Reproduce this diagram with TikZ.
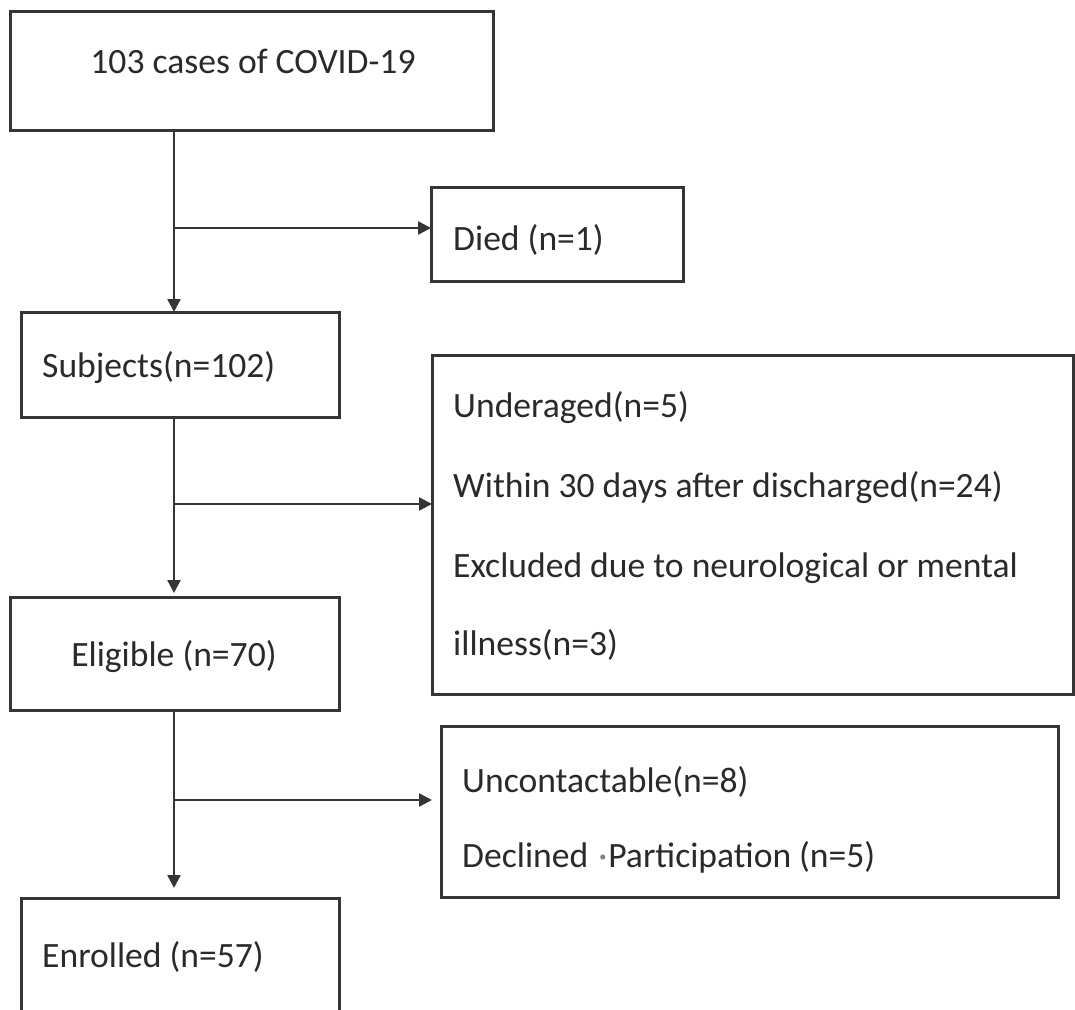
\documentclass[tikz,border=0pt]{standalone}
\usepackage{fontspec}
\setmainfont{Carlito}
\usetikzlibrary{arrows.meta}
\definecolor{ln}{HTML}{353535}
\definecolor{tx}{HTML}{2A2A2A}
\tikzset{
  box/.style={draw=ln, line width=3pt, rectangle, inner sep=0pt, outer sep=0pt, anchor=north west},
  txt/.style={text=tx, inner sep=0pt, font=\fontsize{35.6}{42}\selectfont, anchor=base west},
  conn/.style={draw=ln, line width=2.4pt},
  arr/.style={conn, -{Triangle[length=13pt,width=13pt]}}
}
\begin{document}
\begin{tikzpicture}[x=1pt,y=-1pt]
\useasboundingbox[fill=white] (0,0) rectangle (1075,1009);
% boxes
\node[box, minimum width=483pt, minimum height=119pt] (b1) at (10,11) {};
\node[box, minimum width=252pt, minimum height=94pt] (died) at (431,187) {};
\node[box, minimum width=318pt, minimum height=105pt] (subj) at (21,312) {};
\node[box, minimum width=641pt, minimum height=339pt] (excl) at (432,355) {};
\node[box, minimum width=329pt, minimum height=113pt] (elig) at (10,597) {};
\node[box, minimum width=617pt, minimum height=171pt] (unc) at (441,726) {};
\node[box, minimum width=318pt, minimum height=125pt] (enr) at (21,898) {};
% texts
\node[txt, anchor=base] (t1) at (253,73) {103 cases of COVID-19};
\node[txt] (tdied) at (453,250) {Died (n=1)};
\node[txt] (tsubj) at (42,377) {Subjects(n=102)};
\node[txt] (te1) at (453,417) {Underaged(n=5)};
\node[txt] (te2) at (453,497) {Within 30 days after discharged(n=24)};
\node[txt] (te3) at (453,577) {Excluded due to neurological or mental};
\node[txt] (te4) at (453,655) {illness(n=3)};
\node[txt, anchor=base] (telig) at (174,666) {Eligible (n=70)};
\node[txt] (tu1) at (462,792) {Uncontactable(n=8)};
\node[txt] (tu2) at (462,867) {Declined\hspace{10pt}\textcolor{gray}{·}\hspace{1pt}Participation (n=5)};
\node[txt] (tenr) at (42,967) {Enrolled (n=57)};
% trunk coordinates
\coordinate (j1) at (174,228);
\coordinate (j2) at (174,504);
\coordinate (j3) at (174,800);
% connectors
\draw[arr] (b1.south -| j1) -- (subj.north -| j1);
\draw[arr] (j1) -- (died.west |- j1);
\draw[arr, shorten >=4pt] (subj.south -| j2) -- (elig.north -| j2);
\draw[arr] (j2) -- (excl.west |- j2);
\draw[arr, shorten >=10pt] (elig.south -| j3) -- (enr.north -| j3);
\draw[arr, shorten >=9pt] (j3) -- (unc.west |- j3);
\end{tikzpicture}
\end{document}
